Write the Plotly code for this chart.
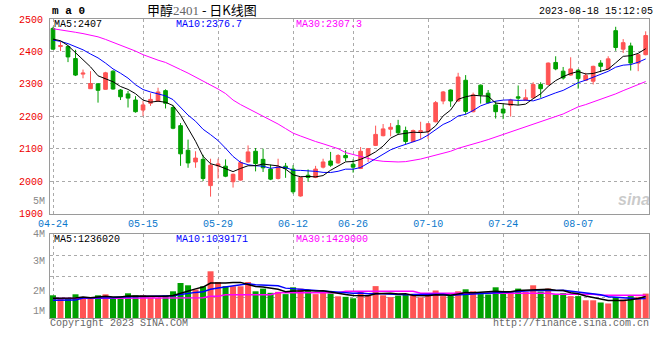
import plotly.graph_objects as go
import pandas as pd

# ---------------- data ----------------
dates = (
    ["2023-04-%02d" % d for d in [24, 25, 26, 27, 28]]
    + ["2023-05-%02d" % d for d in [4, 5, 8, 9, 10, 11, 12, 15, 16, 17, 18, 19,
                                     22, 23, 24, 25, 26, 29, 30, 31]]
    + ["2023-06-%02d" % d for d in [1, 2, 5, 6, 7, 8, 9, 12, 13, 14, 15, 16,
                                     19, 20, 21, 26, 27, 28, 29, 30]]
    + ["2023-07-%02d" % d for d in [3, 4, 5, 6, 7, 10, 11, 12, 13, 14, 17, 18,
                                     19, 20, 21, 24, 25, 26, 27, 28, 31]]
    + ["2023-08-%02d" % d for d in [1, 2, 3, 4, 7, 8, 9, 10, 11, 14, 15, 16, 17, 18]]
)

opens = [2471, 2415, 2415, 2378, 2330, 2285, 2300, 2283, 2339, 2281,
         2269, 2250, 2219, 2240, 2247, 2279, 2227, 2171, 2095, 2059,
         2067, 1986, 2047, 2046, 1998, 2003, 2059, 2092, 2067, 2037,
         2008, 2046, 2037, 1954, 2018, 2011, 2043, 2062, 2056, 2079,
         2052, 2039, 2079, 2110, 2140, 2160, 2171, 2156, 2122, 2152,
         2153, 2183, 2247, 2281, 2247, 2311, 2214, 2296, 2271, 2235,
         2222, 2234, 2260, 2249, 2257, 2298, 2298, 2366, 2339, 2327,
         2342, 2311, 2308, 2364, 2346, 2464, 2407, 2417, 2364, 2390]
highs = [2476, 2430, 2418, 2405, 2344, 2339, 2302, 2337, 2342, 2284,
         2278, 2262, 2247, 2271, 2288, 2283, 2234, 2179, 2128, 2092,
         2081, 2069, 2069, 2067, 2023, 2064, 2110, 2102, 2100, 2051,
         2069, 2056, 2049, 2013, 2036, 2047, 2069, 2090, 2083, 2095,
         2067, 2105, 2102, 2171, 2176, 2179, 2189, 2168, 2159, 2183,
         2179, 2247, 2278, 2283, 2334, 2327, 2273, 2298, 2281, 2247,
         2237, 2254, 2295, 2283, 2305, 2305, 2366, 2385, 2352, 2382,
         2346, 2334, 2356, 2373, 2385, 2476, 2438, 2427, 2392, 2462]
lows = [2405, 2401, 2367, 2324, 2317, 2284, 2242, 2282, 2282, 2250,
        2227, 2211, 2201, 2232, 2245, 2224, 2160, 2047, 2041, 2041,
        2000, 1952, 2008, 2012, 1980, 2001, 2057, 2030, 2028, 2003,
        2005, 2010, 1961, 1952, 1998, 2009, 2039, 2044, 2053, 2061,
        2026, 2037, 2059, 2108, 2138, 2138, 2143, 2114, 2120, 2130,
        2130, 2181, 2237, 2229, 2245, 2205, 2212, 2239, 2239, 2193,
        2191, 2199, 2234, 2247, 2255, 2257, 2295, 2342, 2313, 2325,
        2285, 2309, 2298, 2336, 2344, 2402, 2395, 2341, 2339, 2388]
closes = [2407, 2418, 2383, 2327, 2333, 2301, 2280, 2334, 2284, 2260,
          2256, 2214, 2235, 2252, 2275, 2240, 2163, 2084, 2056, 2071,
          2008, 2049, 2053, 2015, 2021, 2057, 2090, 2054, 2041, 2006,
          2044, 2039, 1967, 2011, 2011, 2037, 2059, 2049, 2079, 2072,
          2043, 2092, 2100, 2144, 2161, 2166, 2149, 2122, 2156, 2155,
          2177, 2242, 2275, 2247, 2321, 2215, 2266, 2266, 2242, 2214,
          2210, 2250, 2256, 2257, 2298, 2285, 2364, 2346, 2318, 2346,
          2316, 2326, 2354, 2354, 2377, 2412, 2427, 2364, 2390, 2449]
volumes = [1294000, 1094000, 1140000, 1351000, 1094000, 1094000, 1294000, 1351000, 1123000, 1123000,
           1408000, 1294000, 1294000, 1169000, 1140000, 1294000, 1522000, 1995000, 1864000, 1625000,
           1807000, 2662000, 2052000, 1818000, 1807000, 1807000, 2052000, 1522000, 1676000, 1436000,
           1493000, 1362000, 1750000, 1676000, 1522000, 1362000, 1465000, 1397000, 1237000, 1208000,
           1123000, 1505000, 1265000, 1818000, 1294000, 1191000, 1277000, 1362000, 1294000, 1180000,
           1248000, 1568000, 1248000, 1265000, 1522000, 1636000, 1522000, 1362000, 1340000, 1750000,
           1522000, 1522000, 1676000, 1493000, 1864000, 1505000, 1682000, 1340000, 1419000, 1248000,
           1248000, 1009000, 1009000, 884000, 827000, 1197000, 1055000, 1248000, 1208000, 1391000]

ma30 = [2470, 2467, 2463, 2459, 2455, 2450, 2445, 2437, 2428, 2420,
        2410, 2401, 2390, 2381, 2373, 2366, 2356, 2344, 2333, 2321,
        2308, 2296, 2284, 2270, 2250, 2236, 2224, 2212, 2201, 2190,
        2176, 2162, 2148, 2139, 2130, 2122, 2115, 2108, 2100, 2088,
        2082, 2074, 2069, 2064, 2061, 2059, 2059, 2060, 2063, 2068,
        2074, 2080, 2086, 2092, 2101, 2107, 2114, 2121, 2128, 2136,
        2144, 2151, 2158, 2166, 2174, 2183, 2192, 2199, 2207, 2218,
        2229, 2236, 2244, 2252, 2261, 2269, 2279, 2288, 2297, 2307]
ma5_head = [2438, 2433, 2418, 2396]
ma10_head = [2435, 2431, 2424, 2415, 2405, 2392, 2380, 2364, 2346]

vol_ma30 = ([1110000] * 17 + [1150000] * 4 + [1237000] * 2 + [1322000] * 7
            + [1436000] * 9 + [1522000] * 10 + [1408000] * 18 + [1351000] * 6
            + [1294000] * 7)
vol_ma5_head = [1123000, 1123000, 1130000, 1140000]
vol_ma10_head = [1009000, 1009000, 1009000, 1020000, 1140000, 1140000, 1140000, 1145000, 1150000]

x_tick_dates = ["2023-04-24", "2023-05-15", "2023-05-29", "2023-06-12",
                "2023-06-26", "2023-07-10", "2023-07-24", "2023-08-07"]
x_tick_text = [d[5:] for d in x_tick_dates]
price_ticks = [1900, 2000, 2100, 2200, 2300, 2400, 2500]
vol_tick_labels = ["5M", "4M", "3M", "2M", "1M"]

price_legend = ["MA5:2407", "MA10:2376.7", "MA30:2307.3"]
vol_legend = ["MA5:1236020", "MA10:1039171", "MA30:1429000"]
title_name, title_code, title_rest = "甲醇", "2401", " - 日K线图"
stamp = "2023-08-18 15:12:05"


def moving(values, n, head):
    s = pd.Series(values, dtype=float).rolling(n).mean().tolist()
    s[:n - 1] = head
    return s


ma5 = moving(closes, 5, ma5_head)
ma10 = moving(closes, 10, ma10_head)
vma5 = moving(volumes, 5, vol_ma5_head)
vma10 = moving(volumes, 10, vol_ma10_head)

RED, GREEN = "#ff5454", "#00a000"
MONO = "Liberation Mono, DejaVu Sans Mono, monospace"
GRID = "#aaaaaa"
BORDER = "#9a9a9a"

# ---------------- layout geometry (pixels) ----------------
W, H = 660, 360
L, R, T, B = 50, 11, 19, 42
PW, PH = W - L - R, H - T - B
main_bottom_px = 213.5
vol_top_px = 234


def px(x):
    return (x - L) / PW


def py(y):
    return (H - B - y) / PH


fig = go.Figure()

fig.add_trace(go.Candlestick(
    x=dates, open=opens, high=highs, low=lows, close=closes,
    increasing=dict(line=dict(color=RED, width=1), fillcolor=RED),
    decreasing=dict(line=dict(color=GREEN, width=1), fillcolor=GREEN),
    xaxis="x", yaxis="y", showlegend=False, hoverinfo="skip"))

for vals, col in [(ma30, "#ff00ff"), (ma10, "#0000ff"), (ma5, "#000000")]:
    fig.add_trace(go.Scatter(x=dates, y=vals, mode="lines",
                             line=dict(color=col, width=1),
                             xaxis="x", yaxis="y", showlegend=False, hoverinfo="skip"))

bar_colors = [RED if c >= o else GREEN for o, c in zip(opens, closes)]
fig.add_trace(go.Bar(x=dates, y=volumes, marker=dict(color=bar_colors, line=dict(width=0)),
                     width=0.8, xaxis="x2", yaxis="y2", showlegend=False, hoverinfo="skip"))
for vals, col in [(vol_ma30, "#ff00ff"), (vma10, "#0000ff"), (vma5, "#000000")]:
    fig.add_trace(go.Scatter(x=dates, y=vals, mode="lines",
                             line=dict(color=col, width=1.5),
                             xaxis="x2", yaxis="y2", showlegend=False, hoverinfo="skip"))

n = len(dates)
xrange = [-0.4, n - 1 + 0.44]
vol_top = 84 * 57000

axis_common = dict(showline=True, linecolor=BORDER, linewidth=1, mirror=True,
                   showgrid=True, gridcolor=GRID, griddash="dot", gridwidth=1,
                   zeroline=False, ticks="")

fig.update_layout(
    width=W, height=H,
    margin=dict(l=L, r=R, t=T, b=B),
    paper_bgcolor="white", plot_bgcolor="white",
    xaxis=dict(axis_common, type="category", range=xrange, anchor="y",
               tickvals=x_tick_dates, ticktext=x_tick_text,
               tickfont=dict(family=MONO, size=10, color="#0a78cc"),
               rangeslider=dict(visible=False)),
    xaxis2=dict(axis_common, type="category", range=xrange, anchor="y2",
                matches="x", tickvals=x_tick_dates, showticklabels=False),
    yaxis=dict(axis_common, domain=[py(main_bottom_px), 1], range=[1900, 2500],
               tickvals=price_ticks, tickfont=dict(family=MONO, size=10, color="#ee0000"),
               ticklabelstandoff=4),
    yaxis2=dict(axis_common, domain=[0, py(vol_top_px)], range=[0, vol_top],
                tickvals=[vol_top * k / 4 for k in range(1, 4)], showticklabels=False),
    bargap=0.2,
)

ann = []


def add(text, x, y, color="#000", size=10, xanchor="left", family=MONO, **kw):
    ann.append(dict(text=text, x=px(x), y=py(y), xref="paper", yref="paper",
                    xanchor=xanchor, yanchor="middle", showarrow=False, borderpad=0,
                    font=dict(family=family, size=size, color=color, **kw)))


# header
add("m a 0", 51, 11, size=11, weight="bold")
add(title_name + '<span style="color:#666;font-family:Liberation Serif">' + title_code
    + "</span>" + title_rest, 202, 9.5, size=13, xanchor="center",
    family="Noto Sans CJK SC")
add(stamp, 654, 11, xanchor="right")

# legends
for txt, x, col in zip(price_legend, [53, 175, 295], ["#000000", "#0000ff", "#ff00ff"]):
    add(txt, x, 25, color=col)
for txt, x, col in zip(vol_legend, [53, 175, 295], ["#000000", "#0000ff", "#ff00ff"]):
    add(txt, x, 239, color=col)

# volume scale labels
for txt, y in zip(vol_tick_labels, [201, 234, 261, 291, 311]):
    add(txt, 46, y, color="#888888", xanchor="right")

# footer
add("Copyright 2023 SINA.COM", 49, 323, color="#666666")
add("http://finance.sina.com.cn", 650, 323, color="#666666", xanchor="right")

# watermark
add("sina", 634, 199, color="rgba(150,150,150,0.5)", size=16, xanchor="center",
    family="Liberation Sans", weight="bold", style="italic")

fig.update_layout(annotations=ann)
fig.write_html("out.html", config={"displayModeBar": False},
               post_script="document.body.style.margin='0px';")
